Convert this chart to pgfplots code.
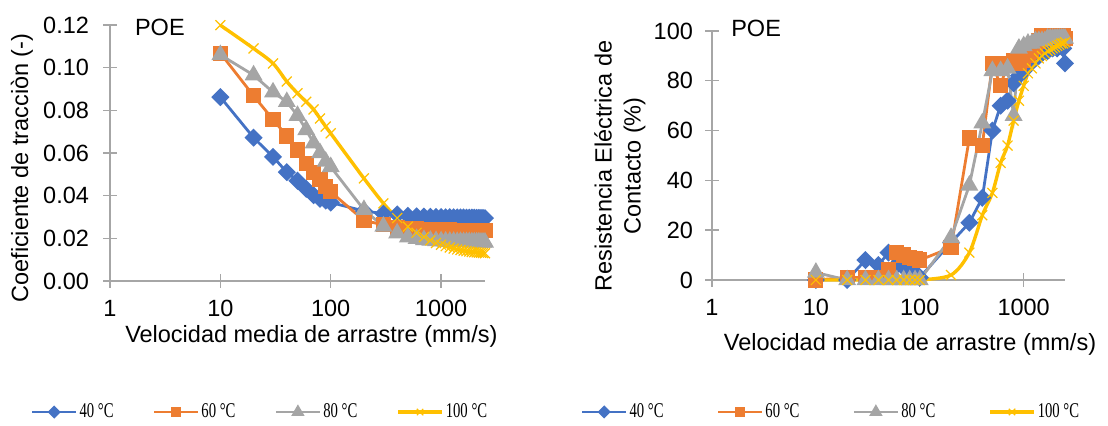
\documentclass[border=0pt]{standalone}
\usepackage{pgfplots}
\pgfplotsset{compat=1.18}
\usepackage{pgfplotstable}
\usepackage{fontspec}
\setmainfont{Liberation Sans}
\newfontfamily\legendfont{Liberation Serif}[FakeStretch=0.7]
\definecolor{cb}{HTML}{4472C4}
\definecolor{co}{HTML}{ED7D31}
\definecolor{cg}{HTML}{A5A5A5}
\definecolor{cy}{HTML}{FFC000}
\definecolor{axgray}{HTML}{A6A6A6}

\pgfplotstableread{
x b o g y
10 0.0862 0.1068 0.1060 0.1199
20 0.0672 0.0868 0.0965 0.1090
30 0.0582 0.0757 0.0885 0.1020
40 0.0510 0.0680 0.0840 0.0935
50 0.0470 0.0614 0.0775 0.0880
60 0.0432 0.0552 0.0708 0.0840
70 0.0402 0.0508 0.0646 0.0804
80 0.0385 0.0474 0.0600 0.0762
90 0.0377 0.0443 0.0560 0.0724
100 0.0368 0.0418 0.0535 0.0692
200 0.0328 0.0284 0.0334 0.0481
300 0.0316 0.0263 0.0256 0.0364
400 0.0312 0.0252 0.0224 0.0295
500 0.0306 0.0247 0.0205 0.0255
600 0.0303 0.0244 0.0198 0.0226
700 0.0302 0.0242 0.0193 0.0206
800 0.0301 0.0241 0.0190 0.0190
900 0.0300 0.0240 0.0188 0.0178
1000 0.0300 0.0240 0.0187 0.0170
1100 0.0299 0.0239 0.0186 0.0163
1200 0.0299 0.0239 0.0185 0.0157
1300 0.0299 0.0238 0.0185 0.0152
1400 0.0298 0.0238 0.0184 0.0148
1500 0.0298 0.0238 0.0184 0.0145
1600 0.0298 0.0237 0.0183 0.0142
1700 0.0297 0.0237 0.0183 0.0140
1800 0.0297 0.0237 0.0183 0.0138
1900 0.0297 0.0237 0.0182 0.0136
2000 0.0297 0.0236 0.0182 0.0135
2100 0.0296 0.0236 0.0182 0.0134
2200 0.0296 0.0236 0.0182 0.0133
2300 0.0296 0.0236 0.0181 0.0132
2400 0.0296 0.0236 0.0181 0.0131
2500 0.0295 0.0236 0.0181 0.0130
}\tabA

\pgfplotstableread{
x b o g y
10 0 0 3 0
20 0 1 0 0
30 8 1 0 0
40 6 1 0 0
50 11 4 0 0
60 6 11 0 0
70 5 10 0 0
80 3 9 0 0
90 3 8.5 0 0
100 1 8 0 0
200 15 13 17 2
300 23 57 38 11
400 33 54 63 26
500 60 87 84 35
600 70 78 84 47
700 72 87 85 54
800 79 88 66 64
900 82 87 93 72
1000 84 88 94 78
1100 86 90 95 83
1200 88 92 95 85
1300 89 94 96 87
1400 90 96 96 89
1500 91 98 96 90
1600 92 98 96 91
1700 92 98 97 92
1800 93 98 97 92.5
1900 93 98 97 93
2000 94 98 97 93.5
2100 93 98 97 94
2200 94 98 97 94.5
2300 95 98 97 95
2400 93 98 97 95
2500 87 97 97 95.5
}\tabB

\tikzset{
  sb/.style={cb, line width=1.4pt, mark=square*, mark size=2.5pt, mark options={rotate=45, solid}},
  so/.style={co, line width=1.4pt, mark=square*, mark size=3.1pt, mark options={solid}},
  sg/.style={cg, line width=1.4pt, mark=triangle*, mark size=3.8pt, mark options={solid}},
  sy/.style={cy, line width=1.7pt, smooth, mark=x, mark size=3.5pt, mark options={solid, line width=0.6pt}},
}
\pgfplotsset{
  legend image code/.code={\draw[mark repeat=2,mark phase=2,#1,every mark/.append style={scale=0.65}] plot coordinates {(0pt,0pt)(11pt,0pt)(22pt,0pt)};},
}

\begin{document}
\begin{tikzpicture}
\path[use as bounding box] (0,0) rectangle (554pt,-213pt);

\begin{axis}[
  scale only axis,
  xmode=log, xmin=1, xmax=2500,
  axis lines=left,
  axis line style={-, draw=axgray, line width=0.7pt},
  tick style={draw=axgray, line width=0.7pt},
  tick align=center, major tick length=7pt,
  xtick={1,10,100,1000}, xticklabels={1,10,100,1000},
  xticklabel style={yshift=-2.5pt},
  xminorticks=false, yminorticks=false,
  font=\fontsize{11.75}{14.5}\selectfont,
  /pgf/number format/assume math mode=true,
  clip=false,
  legend columns=4,
  legend cell align=left,
  legend style={draw=none, fill=none, font=\legendfont\fontsize{10.5}{11}\selectfont,
      nodes={inner sep=1pt},
      /tikz/every even column/.append style={column sep=18.5pt},
      at={(axis description cs:0.4,-0.512)}, anchor=center},
  at={(55pt,-140.5pt)}, anchor=south west,
  width=187.5pt, height=128pt,
  ymin=0, ymax=0.12,
  ytick={0,0.02,0.04,0.06,0.08,0.1,0.12},
  yticklabel style={xshift=-3.5pt, /pgf/number format/.cd, fixed, fixed zerofill, precision=2},
  xlabel={Velocidad media de arrastre (mm/s)},
  xlabel style={at={(axis description cs:0.537,-0.215)}, anchor=center},
  ylabel={Coeficiente de tracciòn (-)},
  ylabel style={at={(axis description cs:-0.235,0.441)}, anchor=center},
]
\addplot[sb] table[x=x,y=b]{\tabA};
\addplot[so] table[x=x,y=o]{\tabA};
\addplot[sg] table[x=x,y=g]{\tabA};
\addplot[sy] table[x=x,y=y]{\tabA};
\legend{40 °C, 60 °C, 80 °C, 100 °C}
\node at (axis description cs:0.133,0.992) {POE};
\end{axis}

\begin{axis}[
  scale only axis,
  xmode=log, xmin=1, xmax=2500,
  axis lines=left,
  axis line style={-, draw=axgray, line width=0.7pt},
  tick style={draw=axgray, line width=0.7pt},
  tick align=center, major tick length=7pt,
  xtick={1,10,100,1000}, xticklabels={1,10,100,1000},
  xticklabel style={yshift=-2.5pt},
  xminorticks=false, yminorticks=false,
  font=\fontsize{11.75}{14.5}\selectfont,
  /pgf/number format/assume math mode=true,
  clip=false,
  legend columns=4,
  legend cell align=left,
  legend style={draw=none, fill=none, font=\legendfont\fontsize{10.5}{11}\selectfont,
      nodes={inner sep=1pt},
      /tikz/every even column/.append style={column sep=25.5pt},
      at={(axis description cs:0.337,-0.53)}, anchor=center},
  at={(356pt,-140pt)}, anchor=south west,
  width=176.5pt, height=124.5pt,
  ymin=0, ymax=100,
  ytick={0,20,40,60,80,100},
  yticklabel style={xshift=-2.5pt},
  xlabel={Velocidad media de arrastre (mm/s)},
  xlabel style={at={(axis description cs:0.561,-0.257)}, anchor=center},
  ylabel={Resistencia Eléctrica de\\Contacto (\%)},
  ylabel style={at={(axis description cs:-0.261,0.458)}, anchor=center, align=center},
]
\addplot[sb] table[x=x,y=b]{\tabB};
\addplot[so] table[x=x,y=o]{\tabB};
\addplot[sg] table[x=x,y=g]{\tabB};
\addplot[sy] table[x=x,y=y]{\tabB};
\legend{40 °C, 60 °C, 80 °C, 100 °C}
\node at (axis description cs:0.125,1.012) {POE};
\end{axis}
\end{tikzpicture}
\end{document}
